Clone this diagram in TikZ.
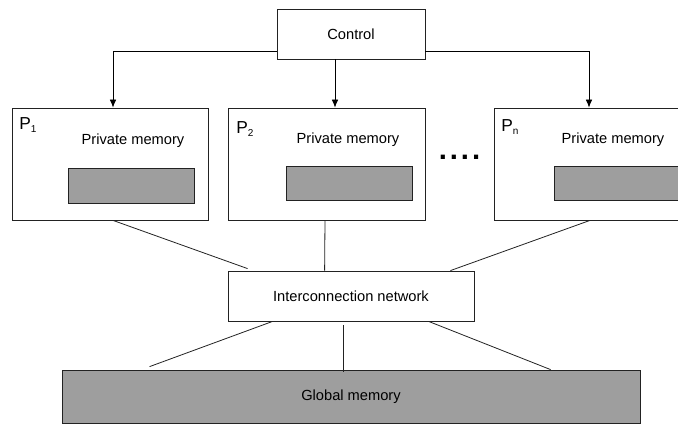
\documentclass[tikz,border=0pt]{standalone}
\usepackage{fontspec}
\setmainfont{Liberation Sans}
\usetikzlibrary{calc,arrows.meta}
\definecolor{memgray}{HTML}{9E9E9E}
\definecolor{edge}{HTML}{222222}
\begin{document}
\begin{tikzpicture}[x=0.75pt,y=-0.75pt,
  box/.style={draw=edge,line width=0.6pt,fill=white,inner sep=0pt},
  membox/.style={draw=edge,line width=0.6pt,fill=memgray,inner sep=0pt},
  lbl/.style={inner sep=0pt,font=\fontsize{11}{13}\selectfont},
  plbl/.style={inner sep=0pt,anchor=base west,font=\fontsize{13}{15}\selectfont},
  link/.style={draw=edge,line width=0.6pt},
  arr/.style={draw=black,line width=0.6pt,-{Latex[length=6pt,width=5pt]}}]
\useasboundingbox (0,0) rectangle (678,424);
\clip (0,0) rectangle (678,424);
% boxes
\node[box,minimum width=111pt,minimum height=37.5pt] (ctrl) at (351,34) {};
\node[lbl] (ctrlt) at (351,34) {Control};
\node[box,minimum width=147pt,minimum height=84pt] (P1) at (110,164) {};
\node[box,minimum width=147.75pt,minimum height=84pt] (P2) at (326.5,164) {};
\node[box,minimum width=147.75pt,minimum height=84pt] (Pn) at (592.5,164) {};
\node[membox,minimum width=94.5pt,minimum height=26.25pt] (m1) at (131,185.5) {};
\node[membox,minimum width=94.5pt,minimum height=25.5pt] (m2) at (349,183) {};
\node[membox,minimum width=94.5pt,minimum height=25.5pt] (mn) at (617,183) {};
\node[lbl] (pm1) at (133,141) {Private memory};
\node[lbl] (pm2) at (348,140) {Private memory};
\node[lbl] (pmn) at (613,140) {Private memory};
\node[plbl] (l1) at (19,130) {P\raisebox{-2pt}{\fontsize{7.5}{8}\selectfont 1}};
\node[plbl] (l2) at (236,134) {P\raisebox{-2pt}{\fontsize{7.5}{8}\selectfont 2}};
\node[plbl] (ln) at (501,132) {P\raisebox{-2pt}{\fontsize{7.5}{8}\selectfont n}};
\node[inner sep=0pt,anchor=base,font=\fontsize{22}{22}\selectfont\bfseries] (dots) at (459.5,160) {.\kern2.2pt.\kern2.2pt.\kern2.2pt.};
\node[box,minimum width=184.5pt,minimum height=37.5pt] (net) at (351,296) {};
\node[lbl] (nett) at (351,296) {Interconnection network};
\node[membox,minimum width=433.5pt,minimum height=39.75pt] (glob) at (351,396.5) {};
\node[lbl] (globt) at (351,397) {Global memory};
% control arrows
\draw[arr] ($(ctrl.west)+(0,17)$) -| ($(P1.north)+(3,0)$);
\draw[arr] ($(ctrl.south)+(-16,0)$) -- ($(P2.north)+(8.5,0)$);
\draw[arr] ($(ctrl.east)+(0,17)$) -| ($(Pn.north)+(-3.5,0)$);
% links to network
\draw[link] ($(P1.south)+(3,0)$) -- ($(net.north west)+(20,-2)$);
\draw[link] ($(P2.south)+(-1.5,0)$) -- ($(net.north west)+(97,0)$);
\draw[link] ($(Pn.south)+(-2.5,0)$) -- ($(net.north east)+(-24,0)$);
% links to global memory
\draw[link] ($(net.south west)+(45,0)$) -- ($(glob.north west)+(88,-3)$);
\draw[link] ($(net.south)+(-8,4)$) -- ($(glob.north)+(-8,2)$);
\draw[link] ($(net.south west)+(201,0)$) -- ($(glob.north west)+(489,0)$);
\end{tikzpicture}
\end{document}
